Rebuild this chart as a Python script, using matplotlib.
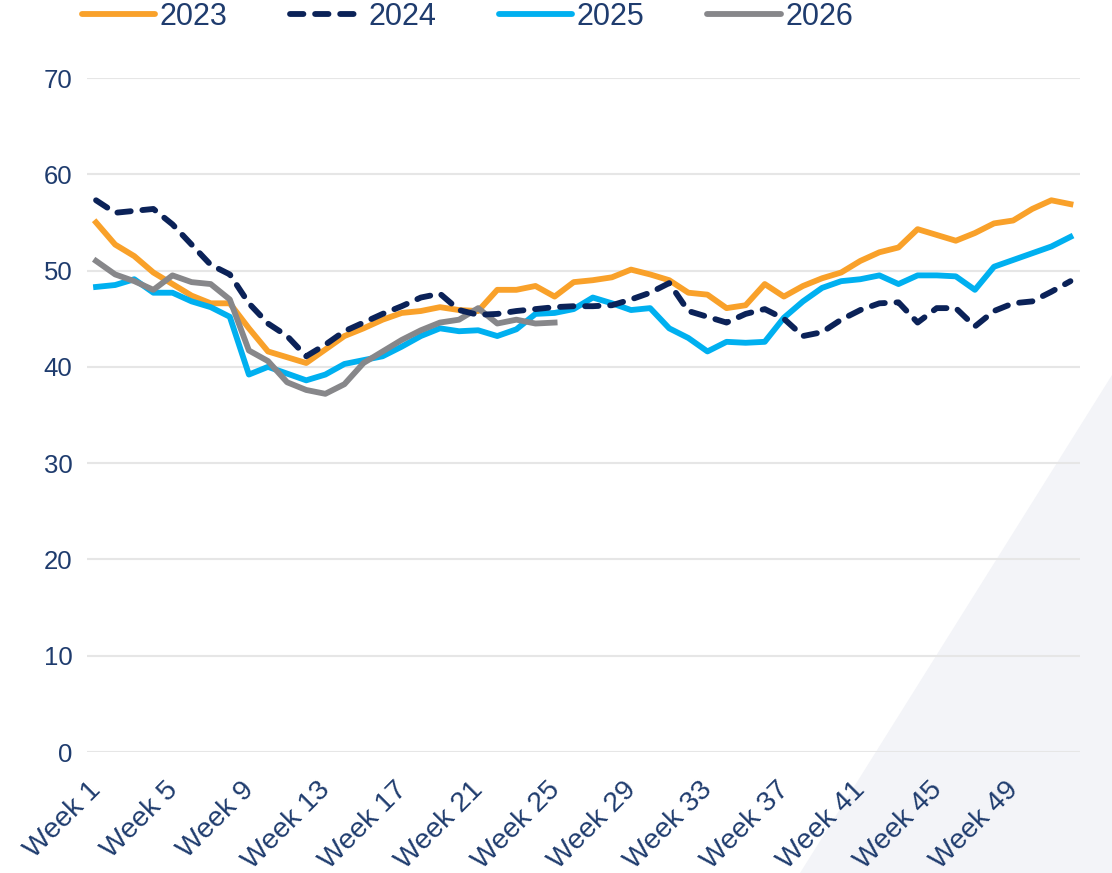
import matplotlib.pyplot as plt
import matplotlib.transforms as mtransforms
from matplotlib.patches import Polygon
from matplotlib.lines import Line2D

weeks = list(range(1, 53))

y2023 = [55.0, 52.7, 51.5, 49.8, 48.6, 47.4, 46.6, 46.6, 44.0, 41.6,
         41.0, 40.4, 41.8, 43.2, 44.0, 44.9, 45.6, 45.8, 46.2, 45.9,
         45.8, 48.0, 48.0, 48.4, 47.3, 48.8, 49.0, 49.3, 50.1, 49.6,
         49.0, 47.7, 47.5, 46.1, 46.4, 48.6, 47.3, 48.4, 49.2, 49.8,
         51.0, 51.9, 52.4, 54.3, 53.7, 53.1, 53.9, 54.9, 55.2, 56.4,
         57.3, 56.9]

y2024 = [57.3, 56.0, 56.2, 56.4, 54.8, 52.7, 50.6, 49.6, 46.6, 44.5,
         43.2, 41.1, 42.3, 43.7, 44.6, 45.5, 46.3, 47.2, 47.6, 45.9,
         45.4, 45.5, 45.8, 46.0, 46.2, 46.3, 46.3, 46.4, 47.0, 47.7,
         48.7, 45.8, 45.2, 44.6, 45.5, 46.0, 45.0, 43.2, 43.6, 44.9,
         45.9, 46.6, 46.7, 44.6, 46.1, 46.1, 44.2, 45.8, 46.6, 46.8,
         47.8, 48.9]

y2025 = [48.3, 48.5, 49.1, 47.7, 47.7, 46.8, 46.2, 45.2, 39.2, 40.0,
         39.3, 38.6, 39.2, 40.3, 40.7, 41.1, 42.1, 43.2, 44.0, 43.7,
         43.8, 43.2, 43.9, 45.5, 45.6, 46.0, 47.2, 46.6, 45.9, 46.1,
         44.0, 43.0, 41.6, 42.6, 42.5, 42.6, 45.1, 46.8, 48.2, 48.9,
         49.1, 49.5, 48.6, 49.5, 49.5, 49.4, 48.0, 50.4, 51.1, 51.8,
         52.5, 53.5]

y2026 = [51.0, 49.6, 48.9, 48.0, 49.5, 48.8, 48.6, 47.0, 41.7, 40.6,
         38.4, 37.6, 37.2, 38.2, 40.4, 41.6, 42.8, 43.8, 44.6, 44.9,
         46.1, 44.5, 44.9, 44.5, 44.6]

tick_weeks = list(range(1, 53, 4))
tick_labels = ['Week %d' % w for w in tick_weeks]

text_col = '#1F3C6E'
c2023 = '#F9A12A'
c2024 = '#0B2258'
c2025 = '#00B0F0'
c2026 = '#87878A'

plt.rcParams['font.family'] = ['Liberation Sans', 'DejaVu Sans']

fig = plt.figure(figsize=(11.12, 8.73), dpi=100)
bg = Polygon([(800 / 1112, 0), (1, 1 - 375 / 873), (1, 0)],
             closed=True, transform=fig.transFigure,
             facecolor='#F3F4F8', edgecolor='none', zorder=-10)
fig.add_artist(bg)

ax = fig.add_axes([86.5 / 1112, 1 - 752 / 873, (1080 - 86.5) / 1112, (752 - 78) / 873])
ax.set_facecolor('none')

lw = 4.2
ax.plot(weeks, y2023, color=c2023, lw=lw, zorder=3)
ax.plot(weeks, y2024, color=c2024, lw=lw, dashes=(2.3, 2.0), dash_capstyle='round', zorder=4)
ax.plot(weeks, y2025, color=c2025, lw=lw, zorder=3)
ax.plot(weeks[:len(y2026)], y2026, color=c2026, lw=lw, zorder=3)

ax.set_xlim(0.5, 52.5)
ax.set_ylim(0, 70)
ax.set_yticks(range(0, 71, 10))
ax.set_xticks(tick_weeks)
ax.set_xticklabels(tick_labels, rotation=45, ha='right', va='top', rotation_mode='anchor')
ax.tick_params(axis='both', length=0, labelcolor=text_col)
ax.tick_params(axis='y', pad=10, labelsize=18.5)
ax.tick_params(axis='x', pad=18, labelsize=20.5)
shift = mtransforms.ScaledTranslation(-8 / 100, 0, fig.dpi_scale_trans)
for lab in ax.get_xticklabels():
    lab.set_transform(lab.get_transform() + shift)
ax.grid(axis='y', color='#E6E6E6', lw=1.5)
ax.set_axisbelow(True)
for s in ax.spines.values():
    s.set_visible(False)

handles = [Line2D([], [], color=c2023, lw=lw, solid_capstyle='round'),
           Line2D([], [], color=c2024, lw=lw, dashes=(2.3, 2.0), dash_capstyle='round'),
           Line2D([], [], color=c2025, lw=lw, solid_capstyle='round'),
           Line2D([], [], color=c2026, lw=lw, solid_capstyle='round')]
leg = fig.legend(handles, ['2023', '2024', '2025', '2026'], loc='center left',
                 bbox_to_anchor=(82 / 1112, 1 - 17 / 873), ncol=4, frameon=False,
                 handlelength=2.4, handletextpad=0.15, columnspacing=2.05,
                 borderpad=0, borderaxespad=0,
                 prop={'family': ['Liberation Sans Narrow', 'Liberation Sans'], 'size': 22})
for t in leg.get_texts():
    t.set_color(text_col)

fig.savefig('out.png', dpi=100)
